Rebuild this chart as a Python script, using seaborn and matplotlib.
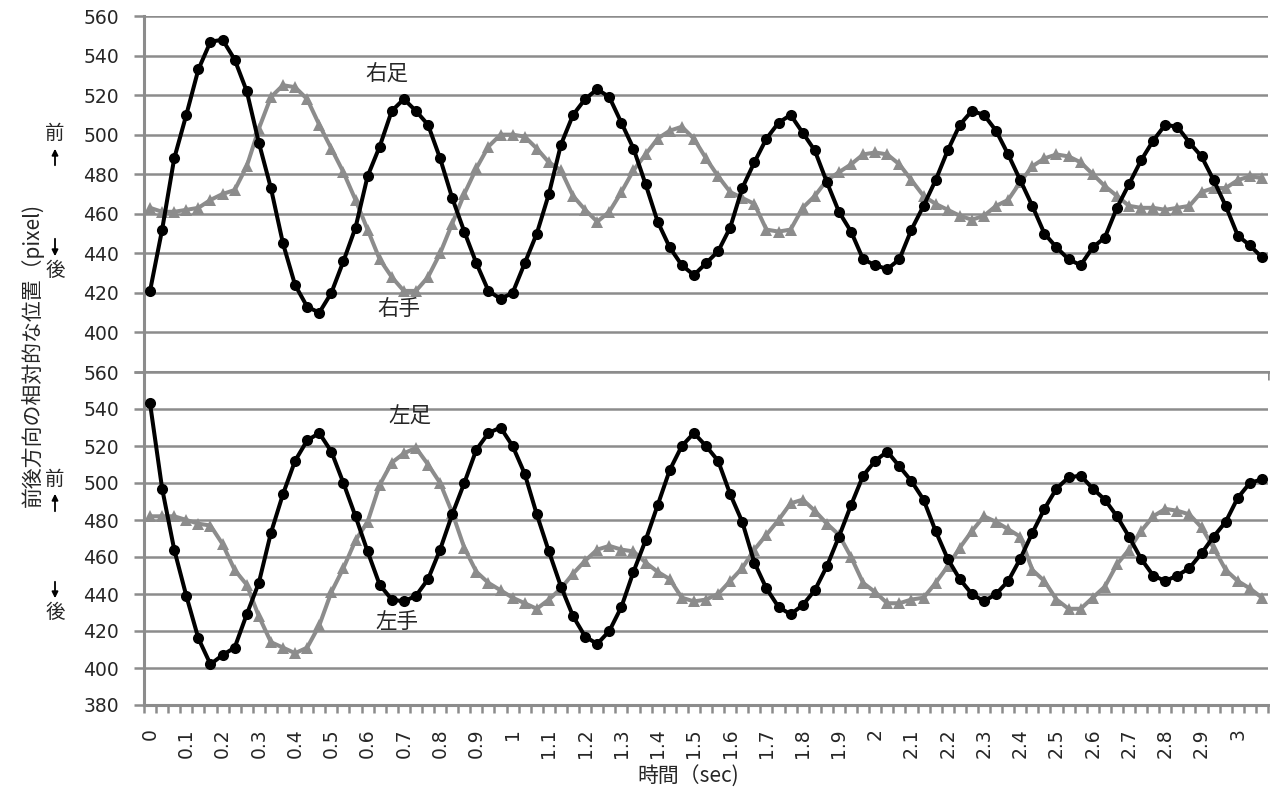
import matplotlib
matplotlib.use("Agg")
import matplotlib.pyplot as plt
from matplotlib.ticker import FixedLocator
import numpy as np
import pandas as pd
import seaborn as sns

# 30 fps frames
RIGHT_FOOT = [421, 452, 488, 510, 533, 547, 548, 538, 522, 496,
              473, 445, 424, 413, 410, 420, 436, 453, 479, 494,
              512, 518, 512, 505, 488, 468, 451, 435, 421, 417,
              420, 435, 450, 470, 495, 510, 518, 523, 519, 506,
              493, 475, 456, 443, 434, 429, 435, 441, 453, 473,
              486, 498, 506, 510, 501, 492, 476, 461, 451, 437,
              434, 432, 437, 452, 464, 477, 492, 505, 512, 510,
              502, 490, 477, 464, 450, 443, 437, 434, 443, 448,
              463, 475, 487, 497, 505, 504, 496, 489, 477, 464,
              449, 444, 438]
RIGHT_HAND = [463, 461, 461, 462, 463, 467, 470, 472, 484, 503,
              519, 525, 524, 518, 505, 493, 481, 467, 452, 437,
              428, 421, 421, 428, 440, 455, 470, 483, 494, 500,
              500, 499, 493, 486, 482, 469, 462, 456, 461, 471,
              482, 490, 498, 502, 504, 498, 488, 479, 471, 468,
              465, 452, 451, 452, 463, 469, 477, 481, 485, 490,
              491, 490, 485, 477, 469, 465, 462, 459, 457, 459,
              464, 467, 476, 484, 488, 490, 489, 486, 480, 474,
              469, 464, 463, 463, 462, 463, 464, 471, 473, 473,
              477, 479, 478]
LEFT_FOOT = [543, 497, 464, 439, 416, 402, 407, 411, 429, 446,
             473, 494, 512, 523, 527, 517, 500, 482, 463, 445,
             437, 436, 439, 448, 464, 483, 500, 518, 527, 530,
             520, 505, 483, 463, 444, 428, 417, 413, 420, 433,
             452, 469, 488, 507, 520, 527, 520, 512, 494, 479,
             457, 443, 433, 429, 434, 442, 455, 471, 488, 504,
             512, 517, 509, 501, 491, 474, 459, 448, 440, 436,
             440, 447, 459, 473, 486, 497, 503, 504, 497, 491,
             482, 471, 459, 450, 447, 450, 454, 462, 471, 479,
             492, 500, 502]
LEFT_HAND = [482, 482, 482, 480, 478, 477, 467, 453, 445, 428,
             414, 411, 408, 411, 423, 441, 454, 469, 479, 499,
             511, 516, 519, 510, 500, 484, 465, 452, 446, 442,
             438, 435, 432, 437, 443, 451, 458, 464, 466, 464,
             463, 457, 452, 448, 438, 436, 437, 440, 447, 454,
             464, 472, 480, 489, 491, 485, 478, 472, 460, 446,
             441, 435, 435, 437, 438, 446, 455, 465, 474, 482,
             479, 475, 471, 453, 447, 437, 432, 432, 438, 444,
             456, 464, 474, 482, 486, 485, 483, 476, 465, 453,
             447, 443, 438]

TIME_LABELS = ["0", "0.1", "0.2", "0.3", "0.4", "0.5", "0.6", "0.7", "0.8",
               "0.9", "1", "1.1", "1.2", "1.3", "1.4", "1.5", "1.6", "1.7",
               "1.8", "1.9", "2", "2.1", "2.2", "2.3", "2.4", "2.5", "2.6",
               "2.7", "2.8", "2.9", "3"]
LABEL_EVERY = 3  # one label per 0.1 s
Y_TICKS = [380, 400, 420, 440, 460, 480, 500, 520, 540, 560]

GRAY = "#8c8c8c"
BLACK = "#000000"

sns.set_theme(style="white")
plt.rcParams["font.family"] = ["DejaVu Sans", "Noto Sans CJK JP"]
JP = ["Noto Sans CJK JP", "DejaVu Sans"]

W, H = 1270, 789
fig = plt.figure(figsize=(W / 100, H / 100), dpi=100)
left, right = 144 / W, 1268 / W
ax_top = fig.add_axes([left, 1 - 372 / H, right - left, (372 - 16) / H])
ax_bot = fig.add_axes([left, 1 - 705 / H, right - left, (705 - 372) / H])


def make_df(foot, hand, foot_name, hand_name):
    n = len(foot)
    return pd.DataFrame({
        "frame": list(range(n)) * 2,
        "value": list(hand) + list(foot),
        "series": [hand_name] * n + [foot_name] * n,
    })


def draw_panel(ax, df, foot_name, hand_name, show_labels):
    sns.lineplot(
        data=df, x="frame", y="value", hue="series", style="series",
        hue_order=[hand_name, foot_name], style_order=[hand_name, foot_name],
        palette={hand_name: GRAY, foot_name: BLACK},
        markers={hand_name: "^", foot_name: "o"}, dashes=False,
        markersize=8, markeredgewidth=0, linewidth=2.9,
        legend=False, ax=ax, zorder=3,
    )
    n = len(df) // 2
    ax.set_xlim(-0.5, n - 0.5)
    ax.set_ylim(380, 560)
    ax.set_yticks(Y_TICKS)
    ax.yaxis.grid(True, color=GRAY, linewidth=1.8)
    ax.xaxis.grid(False)
    for side in ("top", "right"):
        ax.spines[side].set_visible(False)
    for side in ("left", "bottom"):
        ax.spines[side].set_color(GRAY)
        ax.spines[side].set_linewidth(2.2)
    ax.tick_params(axis="y", direction="out", length=7, width=1.8,
                   color=GRAY, labelsize=13.5, pad=11, left=True)
    ax.xaxis.set_major_locator(FixedLocator(list(range(0, n, LABEL_EVERY))))
    ax.xaxis.set_minor_locator(FixedLocator([i + 0.5 for i in range(-1, n)]))
    ax.tick_params(axis="x", which="major", length=0, labelsize=13.5,
                   pad=17, rotation=90)
    ax.tick_params(axis="x", which="minor", direction="out", length=6,
                   width=1.8, color=GRAY, bottom=True)
    if show_labels:
        ax.set_xticklabels(TIME_LABELS)
    else:
        ax.set_xticklabels([])
    ax.set_xlabel("")
    ax.set_ylabel("")
    ax.set_facecolor("white")


draw_panel(ax_top, make_df(RIGHT_FOOT, RIGHT_HAND, "右足", "右手"),
           "右足", "右手", False)
draw_panel(ax_bot, make_df(LEFT_FOOT, LEFT_HAND, "左足", "左手"),
           "左足", "左手", True)

# 380 of the upper panel sits under the 560 of the lower one
ax_top.set_yticklabels([""] + [str(v) for v in Y_TICKS[1:]])

ax_top.text(19.6, 531, "右足", family=JP, fontsize=15.5, ha="center", va="center")
ax_top.text(20.6, 412, "右手", family=JP, fontsize=15.5, ha="center", va="center")
ax_bot.text(21.5, 536, "左足", family=JP, fontsize=15.5, ha="center", va="center")
ax_bot.text(20.4, 425, "左手", family=JP, fontsize=15.5, ha="center", va="center")

fig.text(32 / W, 1 - 355 / H, "前後方向の相対的な位置（pixel)", family=JP,
         fontsize=15, rotation=90, ha="center", va="center")
fig.text(688 / W, 1 - 777 / H, "時間（sec)", family=JP, fontsize=15,
         ha="center", va="center")


def fig_xy(x, y):
    return (x / W, 1 - y / H)


# 前 / 後 with small arrows beside the y axis
for word, y in [("前", 133), ("後", 270), ("前", 479), ("後", 612)]:
    fig.text(*fig_xy(55, y), word, family=JP, fontsize=14,
             ha="center", va="center")
for y_tail, y_head in [(168, 146), (236, 259), (514, 491), (579, 601)]:
    fig.add_artist(matplotlib.patches.FancyArrowPatch(
        fig_xy(55, y_tail), fig_xy(55, y_head), transform=fig.transFigure,
        arrowstyle="-|>", mutation_scale=9, color="black", linewidth=1.3))

fig.savefig("out.png", dpi=100, facecolor="white")
